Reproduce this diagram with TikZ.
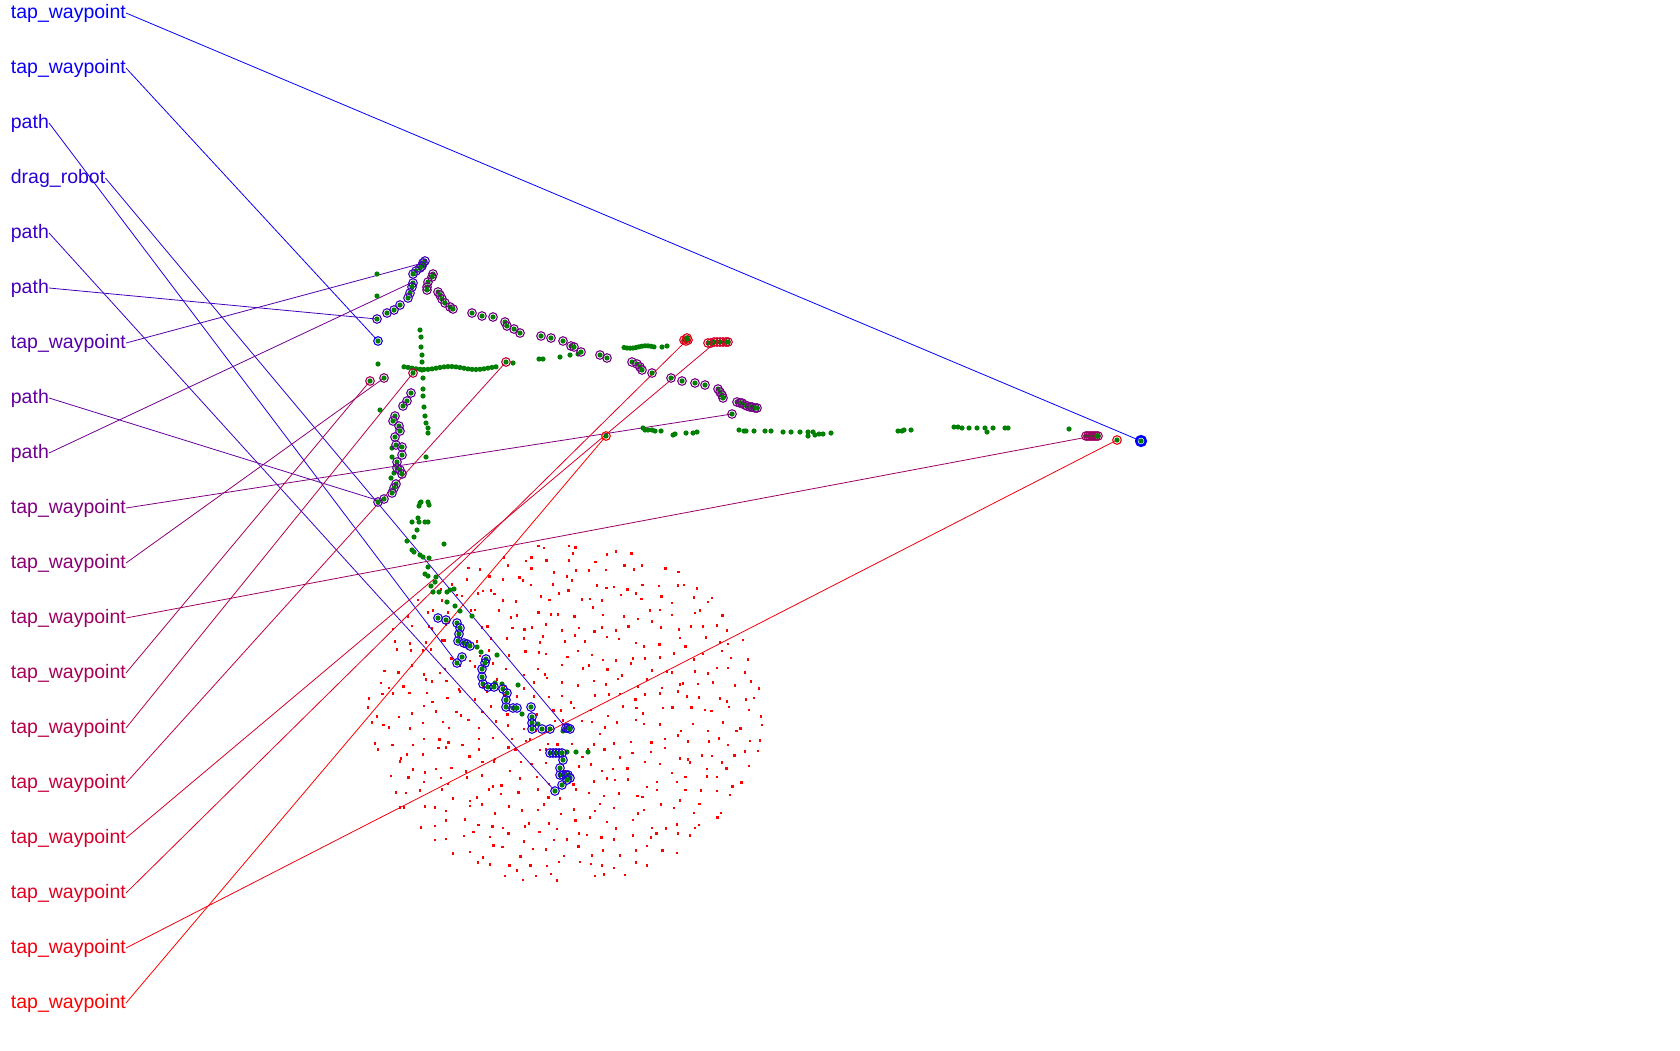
\documentclass[tikz,border=0pt]{standalone}
\usepackage{fontspec}
\setmainfont{Liberation Sans}
\usepackage{tikz}
\usetikzlibrary{positioning,calc}

\definecolor{dotgreen}{RGB}{0,128,0}
\colorlet{trajblue}{red!15!blue}
\colorlet{trajvio}{red!28!blue}
\colorlet{trajpur}{red!40!blue}
\colorlet{trajmag}{red!47!blue}

\tikzset{
  lbl/.style={anchor=west, inner sep=0pt, font=\fontsize{19.5}{21}\selectfont},
  wire/.style={line width=0.8pt},
  ringpt/.style={line width=1.1pt},
  reddot/.style={fill=red},
}

% ring with a green point inside
\newcommand{\ringset}[2]{%
  \foreach \px/\py in {#2}{%
    \draw[ringpt, draw=#1] (\px,\py) circle (4.3);
    \fill[dotgreen] (\px,\py) circle (2.6);}}
\newcommand{\greenset}[1]{%
  \foreach \px/\py in {#1}{\fill[dotgreen] (\px,\py) circle (2.6);}}

\begin{document}
\begin{tikzpicture}[x=1pt, y=-1pt]
  \useasboundingbox (0,0) rectangle (1680,1050);

  % sampled field
  \pgfmathsetseed{11}
  \foreach \gx in {366,380,...,766}{
    \foreach \gy in {542,556,...,884}{
      \pgfmathsetmacro\jx{\gx+12*rnd-6}
      \pgfmathsetmacro\jy{\gy+12*rnd-6}
      \pgfmathtruncatemacro\inside{((\jx-565)/201)^2+((\jy-712)/171)^2<1}
      \ifnum\inside=1
        \fill[reddot] (\jx,\jy) rectangle ++(2.2,2.6);
      \fi
    }
  }

  % end points of the connectors
  \coordinate (t0) at (1141,441);
  \coordinate (t1) at (378,341);
  \coordinate (t2) at (457,663);
  \coordinate (t3) at (567,729);
  \coordinate (t4) at (555,791);
  \coordinate (t5) at (377,319);
  \coordinate (t6) at (423,263);
  \coordinate (t7) at (380,501);
  \coordinate (t8) at (415,281);
  \coordinate (t9) at (732,414);
  \coordinate (t10) at (384,378);
  \coordinate (t11) at (1093,436);
  \coordinate (t12) at (370,381);
  \coordinate (t13) at (413,373);
  \coordinate (t14) at (506,362);
  \coordinate (t15) at (716,342);
  \coordinate (t16) at (686,341);
  \coordinate (t17) at (1117,440);
  \coordinate (t18) at (606,436);

  % labels and connectors
  \foreach \txt [count=\i from 0] in {tap\_waypoint, tap\_waypoint, path, drag\_robot, path, path,
      tap\_waypoint, path, path, tap\_waypoint, tap\_waypoint, tap\_waypoint, tap\_waypoint,
      tap\_waypoint, tap\_waypoint, tap\_waypoint, tap\_waypoint, tap\_waypoint, tap\_waypoint}{
    \pgfmathtruncatemacro\p{\i*100/18}
    \node[lbl, text=red!\p!blue] (l\i) at (10.7,{13+55*\i}) {\txt};
    \draw[wire, red!\p!blue] (l\i.east) -- (t\i);
  }

  % green points
  \greenset{377/274, 377/296, 378/364, 380/410, 420/330, 421/337, 421/347, 422/355, 422/362,
    422/370, 423/378, 423/389, 423/396, 424/407, 425/416, 426/423, 428/428, 428/433, 426/457}
  \foreach \x in {404,408,...,496}{\fill[dotgreen] (\x,{368+1.5*sin(\x*7)}) circle (2.6);}
  \greenset{513/363, 539/359, 543/359, 560/357, 570/355, 578/354, 662/347, 667/346}
  \foreach \x in {624,627,...,654}{\fill[dotgreen] (\x,{347+1.2*sin(\x*11)}) circle (2.6);}
  \greenset{643/428, 645/430, 648/430, 652/430, 655/431, 661/431, 673/435, 675/434, 686/433,
    693/433, 697/432, 739/430, 744/431, 746/431, 754/431, 765/431, 771/431, 783/432, 791/432,
    800/432, 808/432, 808/436, 813/432, 815/435, 819/434, 823/434, 831/433, 898/431, 902/431,
    904/430, 911/430, 954/427, 958/427, 962/428, 969/428, 977/428, 985/428, 987/432, 993/428,
    1005/428, 1008/428, 1069/429}
  \greenset{392/448, 392/457, 394/473, 391/478, 420/503, 428/502, 429/505, 418/518, 419/506,
    421/502, 412/522, 419/522, 425/522, 428/522, 417/530, 414/537, 407/541, 412/550, 414/552,
    444/544, 420/555, 423/557, 429/558, 428/567, 425/574, 428/576, 436/577, 435/582, 431/586,
    433/592, 439/592, 447/592, 450/590, 454/589, 447/602, 455/606, 460/611, 472/616, 477/647,
    481/652, 497/655, 495/683, 502/684, 518/685, 522/714, 538/724, 563/731, 567/752, 576/752,
    588/752}

  % trajectories
  \ringset{trajvio}{425/261, 423/263, 422/266, 420/268, 416/271, 413/274, 413/283, 412/287,
    410/293, 408/298, 400/305, 394/310, 387/313, 377/319}
  \ringset{red!6!blue}{378/341}
  \ringset{trajmag}{433/274, 432/277, 428/282, 427/287, 427/290, 438/292, 440/295, 442/299,
    445/303, 450/307, 453/309, 472/313, 482/316, 493/317, 505/322, 507/326, 514/329, 520/333,
    541/336, 551/338, 563/341, 571/346, 574/347, 581/352, 600/355, 607/358, 632/362, 637/364,
    640/367, 642/370, 652/373, 671/378, 682/381, 695/383, 705/385, 718/389, 720/392, 722/395,
    723/398, 737/402, 740/403, 742/403, 745/405, 747/406, 750/407, 752/407, 755/408, 757/408,
    732/414}
  \ringset{trajpur}{411/393, 407/401, 403/406, 395/416, 393/421, 399/426, 400/431, 395/437,
    396/445, 402/447, 402/455, 397/462, 397/468, 400/470, 402/474, 396/484, 394/488, 392/493,
    384/499, 378/502}
  \ringset{trajblue}{438/618, 446/620, 457/623, 460/628, 459/634, 458/641, 464/643, 467/644,
    470/646, 462/657, 457/663, 486/659, 485/663, 482/669, 482/677, 483/684, 488/687, 494/687,
    503/689, 507/693, 506/700, 506/707, 513/708, 517/708, 531/707, 532/717, 532/723, 532/729,
    542/729, 550/729, 566/728, 568/728, 570/729, 550/753, 553/753, 556/753, 559/753, 562/753,
    563/760, 560/768, 560/775, 563/775, 566/775, 568/775, 570/778, 567/780, 562/785, 555/791}

  % tapped points
  \ringset{red!56!blue}{384/378}
  \ringset{red!67!blue}{370/381}
  \ringset{red!72!blue}{413/373}
  \ringset{red!78!blue}{506/362}
  \ringset{red!61!blue}{1086/436, 1088/436, 1090/436, 1092/436, 1094/436, 1096/436, 1098/436}
  \ringset{red!83!blue}{708/343, 711/343, 714/342, 717/342, 720/342, 723/342, 726/342, 728/342}
  \ringset{red!89!blue}{684/340, 686/341, 688/340, 687/338}
  \ringset{red!94!blue}{1117/440}
  \ringset{red}{606/436}
  \draw[line width=2.6pt, blue] (1141,441) circle (4.8);
  \fill[dotgreen] (1141,441) circle (2.6);
\end{tikzpicture}
\end{document}
